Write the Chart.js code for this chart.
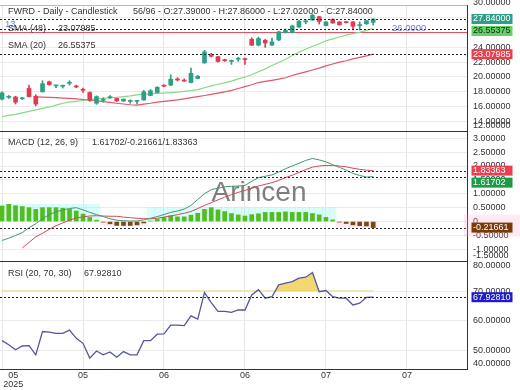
<!DOCTYPE html>
<html>
<head>
<meta charset="utf-8">
<script src="https://cdn.jsdelivr.net/npm/chart.js@4.4.1/dist/chart.umd.min.js"></script>
<style>
  html, body { margin: 0; padding: 0; background: #fff; }
  #wrap { position: relative; width: 520px; height: 390px; }
</style>
</head>
<body>
<div id="wrap"><canvas id="chart" width="520" height="390"></canvas></div>
<script>
// ─── Data ─────────────────────────────────────────────────
const xTickAt   = [0, 12, 24, 36, 48, 60];
const xTickText = [['         05', '         2025'], '05', '06', '06', '07', '07'];

const open  = [17.00, 17.25, 17.30, 17.05, 18.45, 17.40, 18.00, 19.35, 18.80, 18.75,
               19.15, 18.75, 18.30, 17.90, 16.45, 16.85, 17.20, 17.10, 16.75, 16.70,
               16.70, 16.90, 17.50, 17.90, 18.90, 18.90, 19.65, 19.50, 19.25, 19.80,
               21.90, 23.00, 22.75, 22.25, 22.10, 22.40, 22.45, 25.10, 24.30, 24.95,
               24.30, 25.00, 26.00, 26.00, 26.75, 27.45, 27.70, 28.15, 26.95, 27.80,
               27.45, 27.45, 27.45, 26.95, 27.20, 27.39];
const high  = [18.00, 17.50, 17.40, 17.25, 18.90, 17.60, 19.50, 19.45, 18.90, 18.90,
               19.50, 18.90, 18.50, 18.00, 17.45, 17.20, 17.50, 17.15, 17.05, 16.90,
               16.85, 18.20, 18.30, 18.70, 18.95, 20.30, 19.90, 19.75, 21.20, 20.20,
               23.60, 23.20, 22.80, 22.40, 22.30, 22.65, 22.55, 25.30, 25.40, 25.10,
               25.25, 26.20, 26.50, 27.00, 27.65, 27.75, 28.50, 28.20, 27.50, 27.85,
               27.50, 27.50, 27.50, 27.45, 27.65, 27.86];
const low   = [16.90, 17.10, 16.35, 16.95, 17.30, 16.10, 17.95, 18.90, 18.55, 18.50,
               18.90, 18.55, 17.90, 16.70, 16.30, 16.60, 17.10, 16.70, 16.70, 16.45,
               16.35, 16.85, 17.45, 17.85, 18.70, 18.85, 19.45, 19.40, 19.20, 19.75,
               21.85, 22.70, 22.00, 22.10, 21.70, 22.10, 21.70, 24.25, 24.20, 24.00,
               24.25, 24.90, 25.95, 25.95, 26.70, 27.20, 27.65, 27.15, 26.90, 27.25,
               27.00, 27.30, 26.35, 26.35, 27.10, 27.02];
const close = [17.85, 17.35, 16.60, 17.15, 17.35, 16.35, 19.10, 18.95, 18.85, 18.85,
               19.20, 18.65, 18.20, 16.85, 17.35, 16.95, 17.30, 16.75, 17.00, 16.80,
               16.80, 18.00, 18.15, 18.60, 18.75, 19.70, 19.60, 19.45, 20.50, 20.10,
               23.40, 22.80, 22.10, 22.20, 22.15, 22.45, 22.35, 24.30, 25.20, 24.60,
               24.75, 26.10, 26.30, 26.90, 27.55, 27.55, 28.35, 27.50, 27.45, 27.30,
               27.05, 27.35, 26.85, 27.05, 27.60, 27.84];

const sma20 = [14.64, 14.80, 14.95, 15.15, 15.35, 15.55, 15.75, 15.95, 16.20, 16.45,
               16.60, 16.70, 16.82, 16.95, 17.05, 17.10, 17.18, 17.26, 17.35, 17.45,
               17.58, 17.66, 17.72, 17.78, 17.83, 17.88, 17.95, 18.05, 18.15, 18.30,
               18.55, 18.80, 19.02, 19.20, 19.45, 19.75, 20.00, 20.30, 20.70, 21.10,
               21.55, 21.95, 22.40, 22.90, 23.35, 23.75, 24.15, 24.50, 24.90, 25.15,
               25.40, 25.65, 25.85, 26.05, 26.30, 26.55375];
const sma48 = [null, null, null, null, null, 17.30, 17.28, 17.25, 17.20, 17.15,
               17.10, 17.03, 16.96, 16.90, 16.80, 16.68, 16.58, 16.45, 16.35, 16.25,
               16.20, 16.32, 16.45, 16.60, 16.70, 16.80, 16.90, 17.05, 17.20, 17.35,
               17.50, 17.65, 17.82, 18.00, 18.20, 18.45, 18.70, 18.95, 19.25, 19.40,
               19.55, 19.70, 19.90, 20.20, 20.45, 20.70, 20.95, 21.20, 21.50, 21.75,
               22.00, 22.20, 22.45, 22.65, 22.85, 23.07985];
const hLineLevel = 26.0;

const macdHist   = [0.56, 0.62, 0.57, 0.54, 0.50, 0.44, 0.50, 0.50, 0.50, 0.48,
                    0.44, 0.38, 0.27, 0.15, 0.05, -0.02, -0.08, -0.14, -0.14, -0.14,
                    -0.12, -0.05, 0.02, 0.09, 0.15, 0.21, 0.17, 0.17, 0.23, 0.30,
                    0.44, 0.50, 0.42, 0.36, 0.29, 0.24, 0.20, 0.25, 0.28, 0.33,
                    0.33, 0.33, 0.35, 0.33, 0.33, 0.33, 0.29, 0.24, 0.15, 0.06,
                    -0.02, -0.07, -0.12, -0.15, -0.16, -0.21661];
const macdLine   = [-0.68, -0.60, -0.50, -0.40, -0.22, -0.08, 0.10, 0.25, 0.35, 0.42,
                    0.47, 0.50, 0.42, 0.33, 0.25, 0.18, 0.10, 0.05, 0.03, 0.02,
                    0.02, 0.06, 0.12, 0.18, 0.25, 0.33, 0.38, 0.45, 0.58, 0.80,
                    1.00, 1.15, 1.20, 1.25, 1.27, 1.28, 1.30, 1.45, 1.58, 1.63,
                    1.68, 1.78, 1.90, 2.00, 2.10, 2.20, 2.27, 2.22, 2.15, 2.05,
                    1.95, 1.85, 1.73, 1.66, 1.60, 1.61702];
const macdSignal = [null, null, null, -0.95, -0.75, -0.55, -0.42, -0.28, -0.15, -0.05,
                    0.05, 0.13, 0.17, 0.20, 0.21, 0.20, 0.19, 0.19, 0.16, 0.14,
                    0.12, 0.10, 0.10, 0.12, 0.16, 0.20, 0.25, 0.30, 0.36, 0.47,
                    0.58, 0.68, 0.78, 0.88, 0.97, 1.05, 1.12, 1.20, 1.28, 1.34,
                    1.40, 1.48, 1.58, 1.67, 1.77, 1.87, 1.96, 2.00, 2.02, 2.02,
                    2.00, 1.97, 1.92, 1.88, 1.85, 1.83363];

const rsi = [53.2, 51.8, 50.1, 51.4, 51.5, 48.4, 56.3, 56.1, 55.7, 55.7,
             56.8, 54.0, 52.3, 47.3, 49.7, 48.4, 49.4, 47.6, 49.5, 48.4,
             48.4, 53.2, 53.2, 55.4, 55.5, 58.5, 58.5, 58.3, 61.6, 60.5,
             69.5, 66.1, 63.1, 63.1, 62.8, 63.6, 63.6, 68.7, 70.5, 67.6,
             68.1, 72.1, 72.7, 73.2, 74.4, 74.7, 76.3, 69.8, 70.2, 68.1,
             67.6, 67.6, 65.3, 65.9, 67.9, 67.9281];
const rsiUpper = 70;

const priceTicks = [14, 16, 18, 20, 22, 24, 26, 28, 30];
const priceEdge  = [12];
const macdTicks  = [-1, -0.5, 0, 0.5, 1, 1.5, 2, 2.5, 3];
const macdEdge   = [-1.5];
const rsiTicks   = [50, 60, 70];
const rsiEdge    = [80, 40];

// ─── Look ─────────────────────────────────────────────────
const FONT   = '"Liberation Sans", Arial, sans-serif';
const UP     = '#2d9f86';
const DOWN   = '#e23a52';
const X_MIN  = -0.3, X_MAX = 68.9;
const N      = close.length;
const last   = a => a[a.length - 1];
const fmt5   = v => v === 0 ? '0' : v.toFixed(5);
const pts    = a => a.map((v, i) => ({ x: i, y: v }));
const isUp   = i => close[i] >= open[i];

// backdrop behind each same-sign run of the histogram, as tall as the run's extreme
const sameSign = (a, b) => (a >= 0) === (b >= 0);
const histBand = macdHist.map((v, i) => {
    let a = i, b = i;
    while (a > 0 && sameSign(macdHist[a - 1], v)) a--;
    while (b < N - 1 && sameSign(macdHist[b + 1], v)) b++;
    const run = macdHist.slice(a, b + 1);
    return v >= 0 ? Math.max(...run) : Math.min(...run);
});

const yAxis = (min, max, ticks, weight) => ({
    type: 'linear', position: 'right', stack: 'panes', stackWeight: weight,
    min, max,
    afterBuildTicks: s => { s.ticks = ticks.map(v => ({ value: v })); },
    afterFit: s => { s.width = 53; s.paddingTop = 0; s.paddingBottom = 0; },
    grid: {
        drawTicks: false,
        color: c => (c.tick && (c.tick.value > max || c.tick.value < min)) ? 'rgba(0,0,0,0)' : '#ebebeb'
    },
    border: { display: true, color: '#333' },
    ticks: {
        autoSkip: false, padding: 6, color: '#333',
        font: { family: FONT, size: 9 },
        callback: v => fmt5(v)
    }
});

// ─── Overlay: legend text, value lines, badges ────────────
const overlay = {
    id: 'overlay',
    beforeDatasetsDraw(chart) {
        const { ctx } = chart;
        ctx.save();
        ctx.font = '28px ' + FONT;
        ctx.fillStyle = 'rgba(105,105,105,0.85)';
        ctx.textAlign = 'center';
        ctx.textBaseline = 'middle';
        ctx.fillText('Arincen', 259, 193);
        ctx.restore();
    },
    afterDatasetsDraw(chart) {
        const { ctx, chartArea: a, scales } = chart;
        ctx.save();

        // pane separators
        ctx.strokeStyle = '#333';
        ctx.lineWidth = 1;
        [scales.yP.bottom, scales.yM.bottom].forEach(y => {
            ctx.beginPath(); ctx.moveTo(a.left, Math.round(y) + 0.5); ctx.lineTo(a.right, Math.round(y) + 0.5); ctx.stroke();
        });
        ctx.strokeStyle = '#8fd88f';
        ctx.beginPath(); ctx.moveTo(a.left, a.top + 0.5); ctx.lineTo(a.right, a.top + 0.5); ctx.stroke();

        // dashed last-value lines
        ctx.strokeStyle = '#222';
        ctx.setLineDash([2, 2]);
        [['yP', last(close)], ['yP', last(sma20)], ['yP', last(sma48)],
         ['yM', last(macdSignal)], ['yM', last(macdLine)], ['yM', last(macdHist)],
         ['yR', last(rsi)]].forEach(([id, v]) => {
            const y = Math.round(scales[id].getPixelForValue(v)) + 0.5;
            ctx.beginPath(); ctx.moveTo(a.left, y); ctx.lineTo(a.right, y); ctx.stroke();
        });
        ctx.setLineDash([]);

        // level label
        ctx.font = '9.5px ' + FONT;
        ctx.fillStyle = '#6f7fd2';
        ctx.textBaseline = 'middle';
        ctx.fillText(hLineLevel.toFixed(4), 392, scales.yP.getPixelForValue(hLineLevel) - 4.5);
        ctx.fillText('13', 5, 24);

        // pane legends
        ctx.fillStyle = '#333';
        ctx.font = '9px ' + FONT;
        const t = (s, x, y) => ctx.fillText(s, x, y);
        t('FWRD - Daily - Candlestick', 8, 12);
        t(`${N}/96 - O:${last(open).toFixed(5)} - H:${last(high).toFixed(5)} - L:${last(low).toFixed(5)} - C:${last(close).toFixed(5)}`, 133, 12);
        t('SMA (48)', 8, 29);  t(last(sma48).toFixed(5), 58, 29);
        t('SMA (20)', 8, 46);  t(last(sma20).toFixed(5), 58, 46);
        t('MACD (12, 26, 9)', 8, 143);
        t(`${last(macdLine).toFixed(5)}/${last(macdHist).toFixed(5)}/${last(macdSignal).toFixed(5)}`, 92, 143);
        t('RSI (20, 70, 30)', 8, 274);
        t(last(rsi).toFixed(5), 84, 274);
        ctx.restore();
    },
    afterDraw(chart) {
        const { ctx, scales } = chart;
        ctx.save();
        ctx.font = '9px ' + FONT;
        ctx.textBaseline = 'middle';
        const lx = scales.yP.left + 6;

        // edge tick labels kept inside their pane
        ctx.fillStyle = '#333';
        [['yP', priceEdge], ['yM', macdEdge], ['yR', rsiEdge]].forEach(([id, vals]) => {
            const s = scales[id];
            vals.forEach(v => {
                const y = Math.min(Math.max(s.getPixelForValue(v), s.top + 5), s.bottom - 5);
                ctx.fillText(fmt5(v), lx, y);
            });
        });

        // last-value badges, pushed apart when they overlap
        const panes = [
            ['yP', [[last(close), '#2e9e88', '#fff'], [last(sma20), '#62d262', '#222'], [last(sma48), '#e8404f', '#fff']]],
            ['yM', [[last(macdSignal), '#e8404f', '#fff'], [last(macdLine), '#1c9a45', '#fff'], [last(macdHist), '#7a3a06', '#fff', 'rgba(255,170,210,0.25)']]],
            ['yR', [[last(rsi), '#1c1cc8', '#fff']]]
        ];
        panes.forEach(([id, items]) => {
            const s = scales[id];
            let prev = -Infinity;
            items.map(([v, bg, fg, halo]) => ({ v, bg, fg, halo, y: s.getPixelForValue(v) }))
                .sort((p, q) => p.y - q.y)
                .forEach(b => {
                    let top = b.y - 5;
                    if (top < prev + 2) top = prev + 2;
                    prev = top + 10;
                    if (b.halo) {
                        ctx.fillStyle = b.halo;
                        ctx.fillRect(s.left - 3, top - 8, s.right - s.left + 3, 22);
                    }
                    ctx.fillStyle = b.bg;
                    ctx.fillRect(s.left + 4.5, top, 41, 10);
                    ctx.fillStyle = b.fg;
                    ctx.fillText(b.v.toFixed(5), s.left + 6, top + 5);
                });
        });
        ctx.restore();
    }
};

// ─── Chart ────────────────────────────────────────────────
new Chart(document.getElementById('chart'), {
    data: {
        datasets: [
            { type: 'bar', yAxisID: 'yP', grouped: false, barThickness: 4, minBarLength: 1,
              data: open.map((o, i) => ({ x: i, y: [o, close[i]] })),
              backgroundColor: open.map((o, i) => isUp(i) ? UP : DOWN) },
            { type: 'bar', yAxisID: 'yP', grouped: false, barThickness: 1,
              data: low.map((l, i) => ({ x: i, y: [l, high[i]] })),
              backgroundColor: open.map((o, i) => isUp(i) ? UP : DOWN) },
            { type: 'line', yAxisID: 'yP', data: pts(sma20), borderColor: '#86d986', borderWidth: 1.2, pointRadius: 0 },
            { type: 'line', yAxisID: 'yP', data: pts(sma48), borderColor: '#e0566a', borderWidth: 1.2, pointRadius: 0 },
            { type: 'line', yAxisID: 'yP', data: [{ x: X_MIN, y: hLineLevel }, { x: X_MAX, y: hLineLevel }],
              borderColor: '#dd4458', borderWidth: 1, pointRadius: 0 },

            { type: 'line', yAxisID: 'yM', data: pts(macdLine), borderColor: '#3f9a6c', borderWidth: 1, pointRadius: 0 },
            { type: 'line', yAxisID: 'yM', data: pts(macdSignal), borderColor: '#d4495a', borderWidth: 1, pointRadius: 0 },
            { type: 'bar', yAxisID: 'yM', grouped: false, barThickness: 4,
              data: pts(macdHist),
              backgroundColor: macdHist.map(v => v >= 0 ? '#53bd1e' : '#7a4a12') },
            { type: 'bar', yAxisID: 'yM', grouped: false, barPercentage: 1, categoryPercentage: 1,
              data: pts(histBand),
              backgroundColor: histBand.map(v => v >= 0 ? 'rgba(150,245,240,0.35)' : 'rgba(255,170,210,0.25)') },

            { type: 'line', yAxisID: 'yR', data: pts(rsi), borderColor: '#56569e', borderWidth: 1.3, pointRadius: 0,
              fill: { target: { value: rsiUpper }, above: 'rgba(240,205,80,0.8)', below: 'rgba(0,0,0,0)' } },
            { type: 'line', yAxisID: 'yR', data: [{ x: 0, y: rsiUpper }, { x: N - 1, y: rsiUpper }],
              borderColor: '#ece2a6', borderWidth: 1.5, pointRadius: 0 }
        ]
    },
    options: {
        responsive: false,
        animation: false,
        layout: { padding: { top: 5, left: 0, right: 0, bottom: 0 } },
        plugins: { legend: { display: false }, tooltip: { enabled: false } },
        scales: {
            x: {
                type: 'linear', min: X_MIN, max: X_MAX, offset: false,
                afterBuildTicks: s => { s.ticks = xTickAt.map(v => ({ value: v })); },
                afterFit: s => { s.paddingLeft = 0; s.paddingRight = 0; s.height = 21; },
                grid: { color: '#e6e6e6', drawTicks: false, offset: false },
                border: { display: true, color: '#333' },
                ticks: {
                    autoSkip: false, maxRotation: 0, padding: 2, color: '#333',
                    font: { family: FONT, size: 9, lineHeight: 1 },
                    callback: v => xTickText[xTickAt.indexOf(v)]
                }
            },
            yP: yAxis(12.7, 29.73, priceTicks, 126),
            yM: yAxis(-1.42, 3.26, macdTicks, 130),
            yR: yAxis(43.6, 80.2, rsiTicks, 108)
        }
    },
    plugins: [overlay]
});
</script>
</body>
</html>
